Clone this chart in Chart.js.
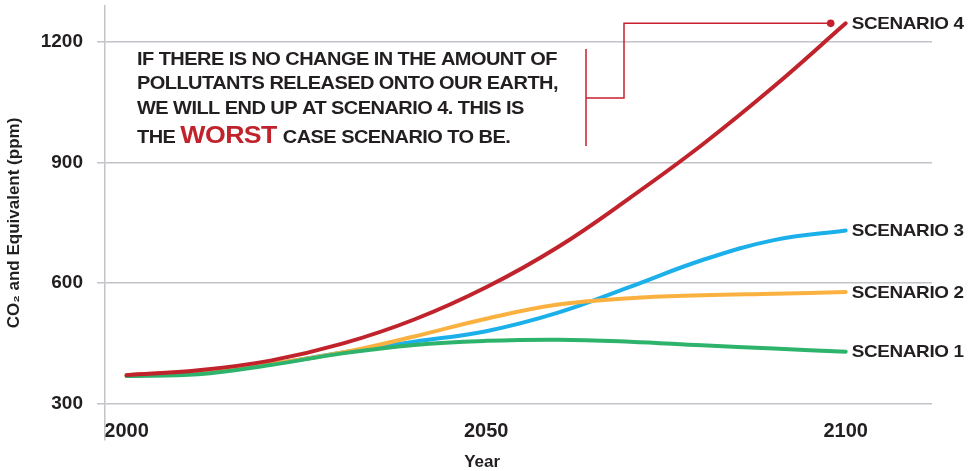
<!DOCTYPE html>
<html>
<head>
<meta charset="utf-8">
<script src="https://cdn.jsdelivr.net/npm/chart.js@4/dist/chart.umd.min.js"></script>
<style>
  html, body { margin: 0; padding: 0; background: #ffffff; }
  #wrap { width: 975px; height: 471px; position: relative; }
</style>
</head>
<body>
<div id="wrap"><canvas id="chart"></canvas></div>
<script>
// CO2-equivalent concentration pathways, ppm
const years = [2000, 2010, 2020, 2030, 2040, 2050, 2060, 2070, 2080, 2090, 2100];
const scenario1 = [370, 374, 397, 426, 447, 457, 460, 455, 446, 438, 430];
const scenario2 = [372, 382, 400, 428, 468, 512, 547, 563, 570, 574, 578];
const scenario3 = [370, 379, 399, 428, 455, 481, 527, 591, 657, 707, 731];
const scenario4 = [372, 384, 408, 450, 510, 590, 690, 812, 943, 1088, 1245];
const seriesNames = ['SCENARIO 1', 'SCENARIO 2', 'SCENARIO 3', 'SCENARIO 4'];
const seriesColors = ['#2db36b', '#fbb140', '#1cb0ea', '#c1232c'];
const yTicks = [300, 600, 900, 1200];
const xTicks = [2000, 2050, 2100];

const TEXT = '#231f20';
const GRID = '#c3c3ca';
const RED = '#c1232c';
const FONT = '"Liberation Sans", Arial, sans-serif';

const toPoints = vals => years.map((yr, i) => ({ x: yr, y: vals[i] }));
const allSeries = [scenario1, scenario2, scenario3, scenario4];

// first dataset is painted last, so the worst case sits on top
const drawOrder = [3, 0, 1, 2];
const datasets = drawOrder.map(i => ({
  label: seriesNames[i],
  data: toPoints(allSeries[i]),
  borderColor: seriesColors[i],
  borderWidth: 4,
  borderCapStyle: 'round',
  pointRadius: 0,
  tension: 0.4,
  fill: false
}));

// draw text widened horizontally by factor k (tight, wide grotesque look)
function wideText(ctx, text, x, y, k) {
  ctx.save();
  ctx.translate(x, y);
  ctx.scale(k, 1);
  ctx.fillText(text, 0, 0);
  ctx.restore();
  return ctx.measureText(text).width * k;
}

// end-of-line labels, callout note and bracket
const notes = {
  id: 'notes',
  afterDatasetsDraw(chart) {
    const { ctx, scales: { x, y } } = chart;
    ctx.save();
    ctx.textBaseline = 'middle';
    ctx.textAlign = 'left';

    // series names at the line ends
    ctx.font = '700 17px ' + FONT;
    ctx.letterSpacing = '-0.3px';
    ctx.fillStyle = TEXT;
    const kLabel = 112 / ctx.measureText('SCENARIO 4').width;
    allSeries.forEach((vals, i) => {
      const last = vals.length - 1;
      wideText(ctx, seriesNames[i], x.getPixelForValue(years[last]) + 6, y.getPixelForValue(vals[last]) + 1, kLabel);
    });

    // bracket from the note to the scenario 4 end point
    const endY = y.getPixelForValue(scenario4[scenario4.length - 1]);
    const dotX = x.getPixelForValue(years[years.length - 1]) - 15;
    ctx.strokeStyle = '#c8202d';
    ctx.fillStyle = '#c8202d';
    ctx.lineWidth = 1.5;
    ctx.beginPath();
    ctx.moveTo(586, 49); ctx.lineTo(586, 146);
    ctx.moveTo(586, 98); ctx.lineTo(624, 98);
    ctx.lineTo(624, endY); ctx.lineTo(dotX, endY);
    ctx.stroke();
    ctx.beginPath();
    ctx.arc(dotX, endY, 3.8, 0, Math.PI * 2);
    ctx.fill();

    // callout text
    ctx.fillStyle = TEXT;
    ctx.font = '700 18px ' + FONT;
    ctx.letterSpacing = '-0.5px';
    const lines = [
      'IF THERE IS NO CHANGE IN THE AMOUNT OF',
      'POLLUTANTS RELEASED ONTO OUR EARTH,',
      'WE WILL END UP AT SCENARIO 4. THIS IS'
    ];
    const kNote = 420 / ctx.measureText(lines[0]).width;
    const lineY = [60, 84, 109];
    lines.forEach((t, i) => wideText(ctx, t, 137, lineY[i], kNote));
    let cx = 137;
    const lastY = 138;
    cx += wideText(ctx, 'THE ', cx, lastY, kNote);
    ctx.font = '700 24px ' + FONT;
    ctx.fillStyle = RED;
    cx += wideText(ctx, 'WORST', cx, lastY - 2, kNote) + 1;
    ctx.font = '700 18px ' + FONT;
    ctx.fillStyle = TEXT;
    wideText(ctx, ' CASE SCENARIO TO BE.', cx, lastY, kNote);

    // axis title under the middle tick
    ctx.letterSpacing = '0px';
    ctx.font = '700 17px ' + FONT;
    ctx.textAlign = 'center';
    ctx.fillText('Year', x.getPixelForValue(2050) - 4, 462);
    ctx.restore();
  }
};

new Chart(document.getElementById('chart'), {
  type: 'line',
  data: { datasets },
  options: {
    responsive: true,
    maintainAspectRatio: false,
    animation: false,
    events: [],
    layout: { padding: { top: 6, right: 43, left: 0, bottom: 0 } },
    plugins: { legend: { display: false }, tooltip: { enabled: false } },
    scales: {
      x: {
        type: 'linear',
        min: 1997,
        max: 2112,
        afterBuildTicks: s => { s.ticks = xTicks.map(v => ({ value: v })); },
        afterFit: s => {
          s.height = 31;
          s.paddingLeft = 0; s.paddingRight = 0; s.paddingTop = 0; s.paddingBottom = 0;
        },
        grid: { display: false, drawTicks: false },
        border: { display: false },
        ticks: {
          mirror: true,
          padding: -3,
          color: TEXT,
          font: { family: FONT, size: 20, weight: '700' },
          callback: v => String(v)
        }
      },
      y: {
        min: 211,
        max: 1288,
        afterBuildTicks: s => { s.ticks = yTicks.map(v => ({ value: v })); },
        afterFit: s => {
          s.width = 105;
          s.paddingLeft = 0; s.paddingRight = 0; s.paddingTop = 0; s.paddingBottom = 0;
        },
        grid: { color: GRID, lineWidth: 1.5, tickLength: 8 },
        border: { display: true, color: GRID, width: 1.5 },
        ticks: {
          padding: 14,
          color: TEXT,
          font: { family: FONT, size: 19, weight: '700' },
          callback: v => String(v)
        },
        title: {
          display: true,
          text: 'CO₂ and Equivalent (ppm)',
          color: TEXT,
          font: { family: FONT, size: 17, weight: '700' },
          padding: { top: 4, bottom: 0 }
        }
      }
    }
  },
  plugins: [notes]
});
</script>
</body>
</html>
